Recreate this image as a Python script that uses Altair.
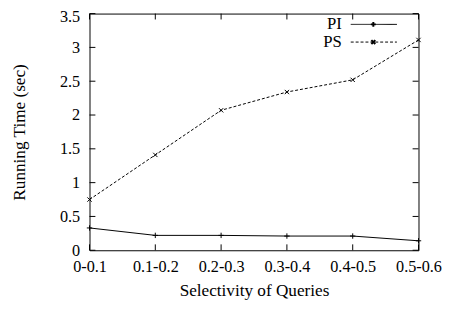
import altair as alt
import pandas as pd

categories = ["0-0.1", "0.1-0.2", "0.2-0.3", "0.3-0.4", "0.4-0.5", "0.5-0.6"]
pi_values = [0.33, 0.22, 0.22, 0.21, 0.21, 0.14]
ps_values = [0.75, 1.41, 2.07, 2.34, 2.52, 3.11]
y_ticks = [0, 0.5, 1, 1.5, 2, 2.5, 3, 3.5]

W, H = 335, 241
FONT = "'Times New Roman', 'Liberation Serif', 'DejaVu Serif', serif"
PLUS = "M-1,0L1,0M0,-1L0,1"
CROSS = "M-0.8,-0.8L0.8,0.8M-0.8,0.8L0.8,-0.8"

df = pd.DataFrame({
    "cat": categories * 2,
    "val": pi_values + ps_values,
    "series": ["PI"] * len(categories) + ["PS"] * len(categories),
})
pi_df = df[df.series == "PI"]
ps_df = df[df.series == "PS"]

xscale = alt.Scale(type="point", padding=0, domain=categories)
yscale = alt.Scale(domain=[0, 3.5], nice=False)

xaxis = alt.Axis(title="Selectivity of Queries", labelAngle=0, tickSize=0,
                 domain=False, grid=False, labelPadding=9, labelOverlap=False,
                 labelFont=FONT, labelFontSize=16.5, labelColor="black",
                 titleFont=FONT, titleFontSize=17.5, titleFontWeight="normal",
                 titleColor="black", titleY=41, titleBaseline="middle")
yaxis = alt.Axis(title="Running Time (sec)", values=y_ticks, format="~g", tickSize=0,
                 domain=False, grid=False, labelPadding=10, labelOverlap=False,
                 labelOffset={"condition": {"test": "datum.value == 3.5", "value": 3}, "value": 0},
                 labelFont=FONT, labelFontSize=16.5, labelColor="black",
                 titleFont=FONT, titleFontSize=17.5, titleFontWeight="normal",
                 titleColor="black", titleX=-71, titleY=H / 2,
                 titleAngle=-90, titleBaseline="middle", titleAlign="center")

xenc = alt.X("cat:N", scale=xscale, sort=categories, axis=xaxis)
yenc = alt.Y("val:Q", scale=yscale, axis=yaxis)

pi_line = alt.Chart(pi_df).mark_line(color="black", strokeWidth=1).encode(x=xenc, y=yenc)
pi_pts = alt.Chart(pi_df).mark_point(shape=PLUS, size=30, filled=False, color="black",
                                     strokeWidth=1, opacity=1).encode(x=xenc, y=yenc)
ps_line = alt.Chart(ps_df).mark_line(color="black", strokeWidth=1, strokeDash=[3, 2]).encode(x=xenc, y=yenc)
ps_pts = alt.Chart(ps_df).mark_point(shape=CROSS, size=30, filled=False, color="black",
                                     strokeWidth=1, opacity=1).encode(x=xenc, y=yenc)

ytick_df = pd.DataFrame({"val": y_ticks})
xtick_df = pd.DataFrame({"cat": categories})
ytl = alt.Chart(ytick_df).mark_rule(color="black").encode(y=yenc, x=alt.value(0), x2=alt.value(6))
ytr = alt.Chart(ytick_df).mark_rule(color="black").encode(y=yenc, x=alt.value(W - 6), x2=alt.value(W))
xtb = alt.Chart(xtick_df).mark_rule(color="black").encode(x=xenc, y=alt.value(H - 6), y2=alt.value(H))
xtt = alt.Chart(xtick_df).mark_rule(color="black").encode(x=xenc, y=alt.value(0), y2=alt.value(6))

legend_names = ["PI", "PS"]
legend_df = pd.DataFrame({"series": legend_names})
layers_leg = []
for name, ly, dash, shape in [("PI", 11, [1, 0], PLUS), ("PS", 29, [3, 2], CROSS)]:
    sub = legend_df[legend_df.series == name]
    layers_leg.append(alt.Chart(sub).mark_text(align="right", baseline="middle", font=FONT,
                                               fontSize=17, color="black").encode(
        text="series:N", x=alt.value(257), y=alt.value(ly)))
    layers_leg.append(alt.Chart(sub).mark_rule(color="black", strokeWidth=1, strokeDash=dash).encode(
        x=alt.value(266), x2=alt.value(313), y=alt.value(ly)))
    layers_leg.append(alt.Chart(sub).mark_point(shape=shape, size=25, filled=False,
                                                color="black", opacity=1).encode(
        x=alt.value(289), y=alt.value(ly)))

chart = alt.layer(pi_line, pi_pts, ps_line, ps_pts, ytl, ytr, xtb, xtt, *layers_leg).properties(
    width=W, height=H,
    autosize=alt.AutoSizeParams(type="none"),
    padding={"left": 83, "top": 3, "right": 28, "bottom": 50},
    background="white",
).configure_view(stroke="black", strokeWidth=1)

chart.save("out.html", embed_options={"renderer": "svg", "actions": False})
